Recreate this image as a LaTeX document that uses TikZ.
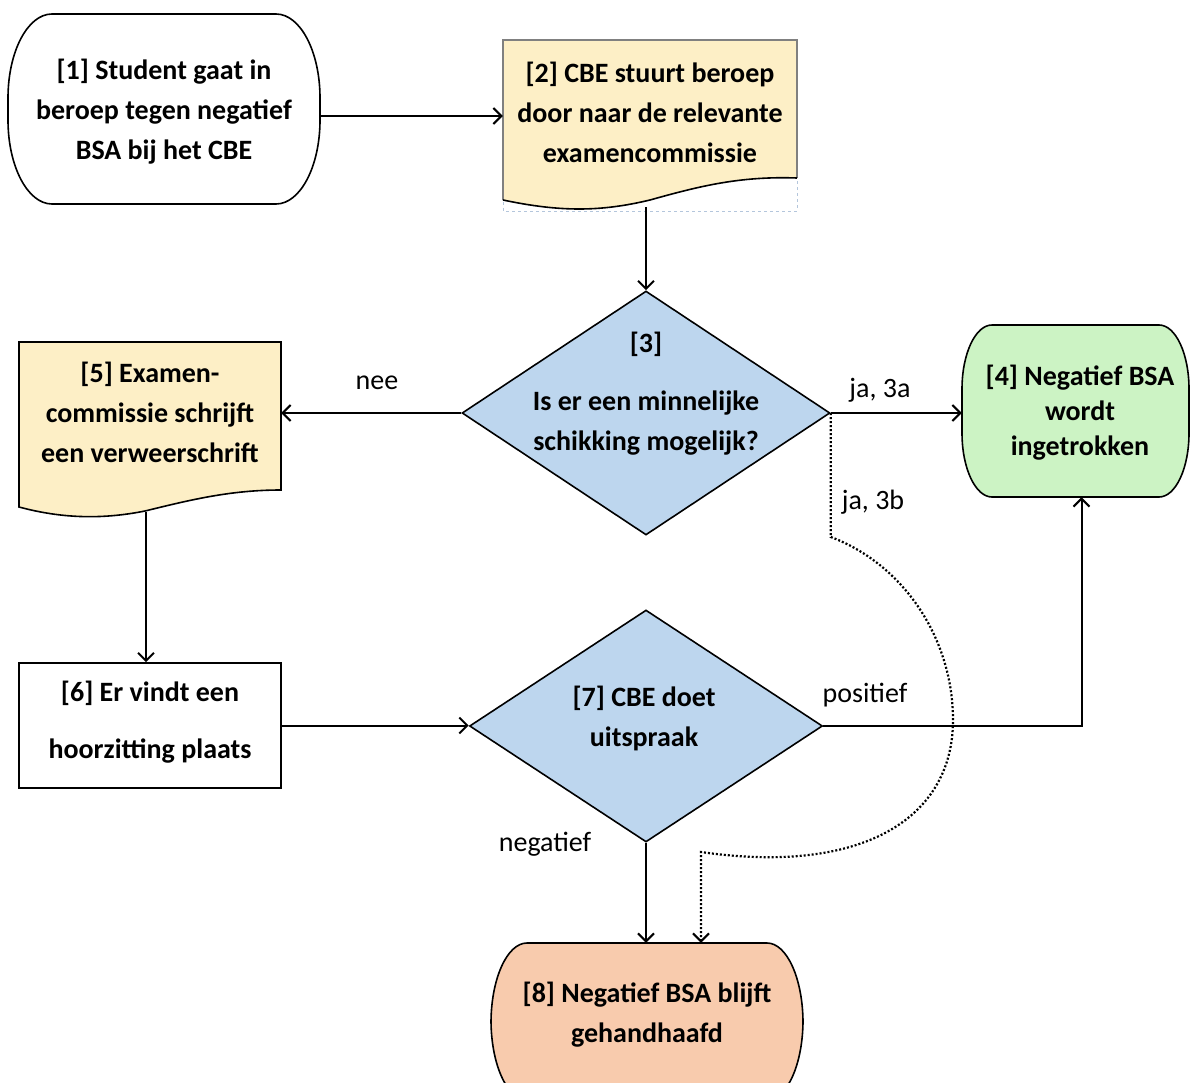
\documentclass[tikz,border=0pt]{standalone}
\usepackage{fontspec}
\setmainfont{Carlito}
\usetikzlibrary{arrows.meta,shapes.geometric}
\definecolor{docfill}{HTML}{FDEFC6}
\definecolor{diafill}{HTML}{BDD6EE}
\definecolor{okfill}{HTML}{CCF3C4}
\definecolor{badfill}{HTML}{F8CBAD}
\definecolor{bboxcol}{HTML}{B4C6DC}
\tikzset{
  txt/.style={font=\fontsize{28}{40}\selectfont\bfseries, align=center, inner sep=0pt},
  lbl/.style={font=\fontsize{28}{30}\selectfont, inner sep=0pt},
  conn/.style={line width=2pt, -{Straight Barb[length=8pt,width=16pt,line width=2pt]}},
  shapeline/.style={line width=1.6pt},
  ext/.style={inner sep=0pt, draw=none},
  dia/.style={diamond, draw, shapeline, fill=diafill, inner sep=0pt},
}
% #1 style, #2 x0, #3 y0, #4 x1, #5 y1, #6 rx, #7 ry
\newcommand{\termshape}[7]{%
  \draw[#1] ({#2+#6},#3) -- ({#4-#6},#3)
    arc[start angle=90,end angle=0,x radius=#6pt,y radius=#7pt]
    -- (#4,{#5-#7})
    arc[start angle=0,end angle=-90,x radius=#6pt,y radius=#7pt]
    -- ({#2+#6},#5)
    arc[start angle=-90,end angle=-180,x radius=#6pt,y radius=#7pt]
    -- (#2,{#3+#7})
    arc[start angle=180,end angle=90,x radius=#6pt,y radius=#7pt]
    -- cycle;}
\begin{document}
\begin{tikzpicture}[x=1pt,y=-1pt]
\clip (0,0) rectangle (1190,1083);
\fill[white] (0,0) rectangle (1190,1083);

% ---- shapes ----
\termshape{shapeline, fill=white}{8}{14}{320}{204}{44}{84}
\node[ext, minimum width=312pt, minimum height=190pt] (s1) at (164,109) {};

\draw[dashed, bboxcol, line width=0.8pt] (503,40) rectangle (797,211);
\fill[docfill] (503,40) -- (797,40) -- (797,178)
  .. controls (740,176) and (700,186) .. (650,200)
  .. controls (600,212) and (560,212) .. (503,200) -- cycle;
\draw[gray, line width=1.2pt] (503,200) -- (503,40) -- (797,40) -- (797,178);
\draw[shapeline] (797,178)
  .. controls (740,176) and (700,186) .. (650,200)
  .. controls (600,212) and (560,212) .. (503,200);
\node[ext, minimum width=294pt, minimum height=167pt] (s2) at (650,123.5) {};

\node[dia, minimum width=368pt, minimum height=244pt] (s3) at (646,413) {};

\termshape{shapeline, fill=okfill}{962}{325}{1189}{497}{30}{64}
\node[ext, minimum width=227pt, minimum height=172pt] (s4) at (1075.5,411) {};

\draw[shapeline, fill=docfill] (19,342) -- (281,342) -- (281,490)
  .. controls (230,490) and (190,500) .. (145,511)
  .. controls (100,520) and (60,518) .. (19,507) -- cycle;
\node[ext, minimum width=262pt, minimum height=170pt] (s5) at (150,427) {};
\coordinate (c5) at (146,512);

\node[draw, shapeline, fill=white, inner sep=0pt, minimum width=262pt, minimum height=125pt] (s6) at (150,725.5) {};

\node[dia, minimum width=353pt, minimum height=232pt] (s7) at (646,726) {};

\termshape{shapeline, fill=badfill}{491}{943}{803}{1100}{36}{80}
\node[ext, minimum width=312pt, minimum height=157pt] (s8) at (647,1021.5) {};

% ---- texts ----
\node[txt] (t1) at (164,112) {[1] Student gaat in\\beroep tegen negatief\\BSA bij het CBE};
\node[txt] (t2) at (650,112) {[2] CBE stuurt beroep\\door naar de relevante\\examencommissie};
\node[txt] (t3) at (646,394) {[3]\\[18pt]Is er een minnelijke\\schikking mogelijk?};
\node[txt, font=\fontsize{28}{35}\selectfont\bfseries] (t4) at (1080,413) {[4] Negatief BSA\\wordt\\ingetrokken};
\node[txt] (t5) at (150,412) {[5] Examen-\\commissie schrijft\\een verweerschrift};
\node[txt] (t6) at (150,722) {[6] Er vindt een\\[17pt]hoorzitting plaats};
\node[txt] (t7) at (644,718) {[7] CBE doet\\uitspraak};
\node[txt] (t8) at (647,1015) {[8] Negatief BSA blijft\\gehandhaafd};

% ---- labels ----
\node[lbl] (lnee) at (377,383) {nee};
\node[lbl] (l3a) at (880,390) {ja, 3a};
\node[lbl] (l3b) at (873,502) {ja, 3b};
\node[lbl] (lpos) at (865,695) {positief};
\node[lbl] (lneg) at (545,844) {negatief};

% ---- connectors ----
\draw[conn] ([yshift=-7pt]s1.east) -- ([yshift=-7pt]s1.east -| s2.west);
\draw[conn] (s3.north |- s2.south) -- (s3.north);
\draw[conn] (s3.west) -- (s3.west -| s5.east);
\draw[conn] (s3.east) -- (s3.east -| s4.west);
\coordinate (c8) at (701,852);
\draw[conn, dash pattern=on 2pt off 2pt, line width=2.2pt] (s3.east) -- ++(0,124)
  .. controls (905,565) and (953,640) .. (953,720)
  .. controls (953,820) and (860,875) .. (c8)
  -- (c8 |- s8.north);
\draw[conn] (c5) -- (c5 |- s6.north);
\draw[conn] (s6.east) -- (s6.east -| s7.west);
\draw[conn] (s7.east) -| ([xshift=6pt]s4.south);
\draw[conn] (s7.south) -- (s7.south |- s8.north);
\end{tikzpicture}
\end{document}
